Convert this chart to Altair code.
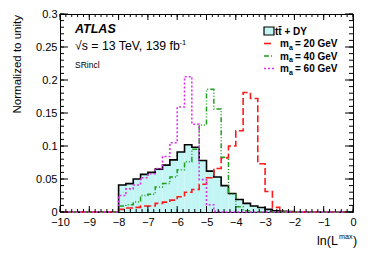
import altair as alt
import pandas as pd

FONT = "Liberation Sans"
W, H = 293, 198

# bins of width 0.25 from -10 to 0 (left edges)
BIN_LO = [round(-10 + 0.25 * i, 2) for i in range(40)]
BIN_HI = [round(b + 0.25, 2) for b in BIN_LO]

# tt + DY (normalized), bins -10 ... -0.25
TTDY = [0, 0, 0, 0, 0, 0, 0, 0,
        0.041, 0.043, 0.050, 0.057, 0.060, 0.065, 0.071, 0.079,
        0.091, 0.102, 0.098, 0.078, 0.062, 0.053, 0.040, 0.028,
        0.019, 0.013, 0.009, 0.0068, 0.004, 0.002, 0.001, 0.0005,
        0, 0, 0, 0, 0, 0, 0, 0]
# m_a = 20 GeV
M20 = [0, 0, 0, 0, 0, 0, 0, 0,
       0.004, 0.006, 0.007, 0.009, 0.009, 0.013, 0.015, 0.018,
       0.023, 0.030, 0.034, 0.042, 0.052, 0.066, 0.082, 0.100,
       0.123, 0.181, 0.172, 0.073, 0.031, 0.007, 0, 0,
       0, 0, 0, 0, 0, 0, 0, 0]
# m_a = 40 GeV
M40 = [0, 0, 0, 0, 0, 0, 0, 0,
       0.009, 0.011, 0.015, 0.025, 0.027, 0.038, 0.043, 0.053,
       0.064, 0.076, 0.095, 0.132, 0.186, 0.156, 0.083, 0.027,
       0.008, 0.002, 0, 0, 0, 0, 0, 0,
       0, 0, 0, 0, 0, 0, 0, 0]
# m_a = 60 GeV
M60 = [0, 0, 0, 0, 0, 0, 0, 0,
       0.025, 0.035, 0.041, 0.052, 0.058, 0.066, 0.084, 0.105,
       0.159, 0.205, 0.133, 0.049, 0.011, 0.001, 0, 0,
       0, 0, 0, 0, 0, 0, 0, 0,
       0, 0, 0, 0, 0, 0, 0, 0]

X_MAJOR = [-10, -9, -8, -7, -6, -5, -4, -3, -2, -1, 0]
X_MINOR = [round(-10 + 0.2 * i, 2) for i in range(51)]
Y_MAJOR = [0, 0.05, 0.1, 0.15, 0.2, 0.25, 0.3]
Y_MINOR = [round(0.01 * i, 2) for i in range(31)]

RED = "#ff1a1a"
GREEN = "#1f9e1f"
MAGENTA = "#dd33ee"
CYAN = "#c4f5f5"

xs = alt.Scale(domain=[-10, 0], nice=False, zero=False)
ys = alt.Scale(domain=[0, 0.3], nice=False, zero=False)

axis_common = dict(ticks=False, tickSize=0, domain=False, grid=False,
                   labelFont=FONT, labelFontSize=11, labelColor="black",
                   title=None, labelOverlap=False, labelFlush=False)
XAX = alt.Axis(values=X_MAJOR, format="d", labelPadding=4, **axis_common)
YAX = alt.Axis(values=Y_MAJOR, format="~g", labelPadding=3, **axis_common)


def X(field):
    return alt.X(field, scale=xs, axis=XAX)


def Y(field):
    return alt.Y(field, scale=ys, axis=YAX)


bars_df = pd.DataFrame({"lo": BIN_LO, "hi": BIN_HI, "v": TTDY, "z": [0] * 40})
fill = alt.Chart(bars_df).mark_rect(color=CYAN).encode(
    x=X("lo:Q"), x2="hi:Q", y=Y("v:Q"), y2="z:Q")


def step_line(vals, color, width, dash=None):
    df = pd.DataFrame({"x": BIN_LO + [0.0], "y": vals + [vals[-1]]})
    kw = dict(interpolate="step-after", color=color, strokeWidth=width)
    if dash is not None:
        kw["strokeDash"] = dash
    return alt.Chart(df).mark_line(**kw).encode(x=X("x:Q"), y=Y("y:Q"))


def tick_layer(vals, side, size):
    df = pd.DataFrame({"t": vals})
    m = alt.Chart(df).mark_rule(color="black", strokeWidth=1)
    if side == "bottom":
        return m.encode(x=X("t:Q"), y=alt.value(H), y2=alt.value(H - size))
    if side == "top":
        return m.encode(x=X("t:Q"), y=alt.value(0), y2=alt.value(size))
    if side == "left":
        return m.encode(y=Y("t:Q"), x=alt.value(0), x2=alt.value(size))
    return m.encode(y=Y("t:Q"), x=alt.value(W), x2=alt.value(W - size))


def label(text, x, y, size=11, weight="normal", style="normal", align="left", angle=0):
    kw = dict(align=align, baseline="alphabetic", fontSize=size, fontWeight=weight,
              fontStyle=style, font=FONT, color="black")
    if angle:
        kw["angle"] = angle
    return alt.Chart(pd.DataFrame({"t": [text]})).mark_text(**kw).encode(
        x=alt.value(x), y=alt.value(y), text="t:N")


one = pd.DataFrame({"a": [0]})


def leg_line(y, color, dash=None):
    kw = dict(color=color, strokeWidth=1.6)
    if dash is not None:
        kw["strokeDash"] = dash
    return alt.Chart(one).mark_rule(**kw).encode(
        x=alt.value(204), x2=alt.value(214), y=alt.value(y))


leg_box = alt.Chart(one).mark_rect(fill=CYAN, stroke="black", strokeWidth=1.2).encode(
    x=alt.value(204), x2=alt.value(214), y=alt.value(13), y2=alt.value(21))

DASH_RED = [7, 3]
DASH_GREEN = [5, 2, 1, 2, 1, 2]
DASH_MAG = [2, 2]

layers = [
    fill,
    step_line(TTDY, "black", 1.6),
    step_line(M20, RED, 1.6, DASH_RED),
    step_line(M40, GREEN, 1.5, DASH_GREEN),
    step_line(M60, MAGENTA, 1.6, DASH_MAG),
    tick_layer(X_MAJOR, "bottom", 6), tick_layer(X_MINOR, "bottom", 3),
    tick_layer(X_MAJOR, "top", 6), tick_layer(X_MINOR, "top", 3),
    tick_layer(Y_MAJOR, "left", 8), tick_layer(Y_MINOR, "left", 4),
    tick_layer(Y_MAJOR, "right", 8), tick_layer(Y_MINOR, "right", 4),
    # texts
    label("ATLAS", 15, 19, size=12.5, weight="bold", style="italic"),
    label("√s = 13 TeV, 139 fb", 15, 36, size=12.3),
    label("-1", 119.5, 31, size=7.5),
    label("SRincl", 15, 54, size=8.5),
    # legend
    leg_box,
    label("tt̄ + DY", 215, 20.5, size=10, weight="bold"),
    leg_line(29.5, RED, DASH_RED),
    leg_line(42, GREEN, DASH_GREEN),
    leg_line(54.5, MAGENTA, DASH_MAG),
]
for yy, mass in [(33, "20"), (45.5, "40"), (58, "60")]:
    layers.append(label("m", 220, yy, size=10, weight="bold"))
    layers.append(label("a", 229, yy + 2.5, size=7, weight="bold"))
    layers.append(label("= " + mass + " GeV", 235, yy, size=10, weight="bold"))

# axis titles
layers += [
    label("ln(L", 257, 231, size=12.5),
    label("max", 279, 224.5, size=7.2),
    label(")", 293, 231, size=12.5),
    label("Normalized to unity", -39, 1, size=11.5, align="right", angle=270),
]

chart = alt.layer(*layers).properties(
    width=W, height=H,
    padding={"left": 52, "top": 6, "right": 13, "bottom": 38},
    autosize=alt.AutoSizeParams(type="none"),
).configure_view(stroke="black", strokeWidth=1)

chart.save("out.html", embed_options={"renderer": "svg", "actions": False})
